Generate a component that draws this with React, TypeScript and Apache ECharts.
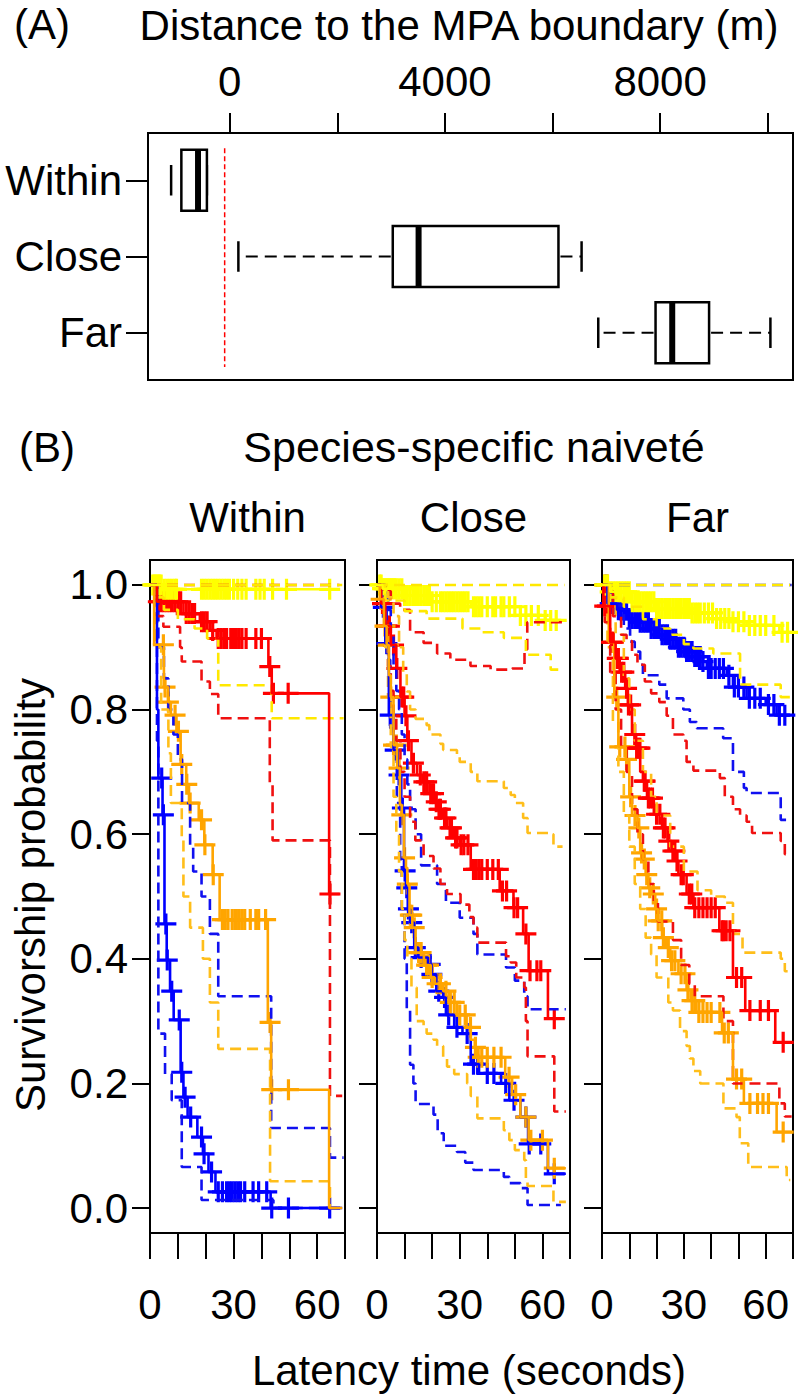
import React, { useEffect, useRef } from "react";
import * as echarts from "echarts";

const FONT = "'Liberation Sans', Arial, Helvetica, sans-serif";

// ---------- Panel A: distance to MPA boundary ----------
const BOX_CATEGORIES = ["Within", "Close", "Far"];
const BOX_POS = [1, 2, 3];
// [lower whisker, Q1, median, Q3, upper whisker]
const BOX_WITHIN = [-1090, -900, -590, -425, -425];
const BOX_CLOSE = [160, 3030, 3510, 6110, 6540];
const BOX_FAR = [6850, 7915, 8225, 8910, 10050];
const BOUNDARY = -95;
const DIST_TICKS = [0, 2000, 4000, 6000, 8000, 10000];
const DIST_LABELS = [0, 4000, 8000];

// ---------- Panel B: survivorship ----------
const PANELS = ["Within", "Close", "Far"];
const TIME_TICKS = [0, 10, 20, 30, 40, 50, 60, 70];
const TIME_LABELS = [0, 30, 60];
const PROB_TICKS = [0, 0.2, 0.4, 0.6, 0.8, 1.0];

// Within
const W_BLUE_KM = [[0,1],[2.5,0.8],[3,0.69],[4.5,0.631],[5.2,0.456],[6,0.398],[7.2,0.348],[8.5,0.302],[11,0.218],[12,0.178],[13.5,0.146],[17,0.114],[19,0.087],[21,0.058],[23.5,0.026],[43.3,0],[69,0]];
const W_BLUE_CENS = [4.2,4.8,5.7,6.2,7.8,10.5,11.4,12.6,14.6,18.5,19.4,22.1,24.5,26,27.5,28.5,29.5,30.5,31.5,32.5,34,37,39,41.9,43.7,49.7,64.5];
const W_BLUE_LO = [[0,1],[2.5,0.75],[3,0.28],[5.4,0.215],[7.8,0.173],[11.4,0.066],[18.5,0.013],[44.3,0],[69,0]];
const W_BLUE_HI = [[0,1],[2,0.97],[3,0.9],[5,0.85],[6.6,0.8],[8.4,0.76],[10,0.72],[11.5,0.65],[14.4,0.58],[15.5,0.54],[18.5,0.5],[21.5,0.44],[24.5,0.34],[43.5,0.1285],[64.6,0.081],[69.5,0.081]];

const W_ORANGE_KM = [[0,1],[1.5,0.904],[5,0.836],[6.5,0.812],[7.5,0.791],[9.5,0.765],[11,0.712],[13,0.68],[14,0.65],[17.5,0.623],[19.5,0.583],[22.5,0.535],[25,0.463],[42.3,0.298],[43.5,0.19],[64.3,0],[69,0]];
const W_ORANGE_CENS = [4.8,5.4,6.6,9,10.2,11.4,13.2,14.4,18.5,19.7,22.7,26,27,28,29.5,30.5,31,32,33,34,36,38,39,41.5,43.1,43.7,49.7];
const W_ORANGE_LO = [[0,1],[2,0.9],[4,0.8],[6.6,0.73],[7.5,0.65],[11.4,0.59],[12,0.5],[14.4,0.45],[19,0.4],[21.5,0.33],[24.5,0.2555],[43.1,0.043],[64.6,0],[69,0]];
const W_ORANGE_HI: number[][] = [];

const W_RED_KM = [[0,1],[2.5,0.973],[12,0.954],[17.9,0.941],[21.5,0.927],[23.9,0.914],[42.5,0.869],[43.7,0.826],[64.3,0.504],[68,0.504]];
const W_RED_CENS = [3,4,5,6,7,8,9,10,11,13,14,15,16,18.5,19.5,20.5,22.5,24.5,25.5,26.5,27.5,29,30,31,32,33,34.5,38,40,43,44.3,49.6,64.6];
const W_RED_LO = [[0,1],[2.5,0.95],[4.8,0.933],[10.8,0.9],[11.4,0.877],[18.5,0.845],[21.5,0.825],[24.5,0.786],[43,0.68],[44,0.59],[64.6,0.18],[69,0.18]];
const W_RED_HI = [[0,1],[68,1]];

const W_YELLOW_KM = [[0,1],[5,0.993],[68,0.993]];
const W_YELLOW_CENS = [1,1.5,2,2.5,3,3.5,4,5,6,7,8,9,9.5,18.5,19.5,20.5,21.5,22.5,23.5,24.5,25.5,26.5,27.5,28.5,30,31.5,33,34.5,38,39.5,41,44,49,64.5];
const W_YELLOW_LO = [[0,1],[2,0.98],[5,0.96],[10,0.945],[16,0.93],[20.5,0.914],[24.5,0.839],[43.7,0.786],[69.5,0.786]];
const W_YELLOW_HI = [[0,1],[69,1]];

// Close
const C_BLUE_KM = [[0,1],[1.5,0.964],[3,0.906],[4.3,0.791],[6,0.735],[7.5,0.695],[8.8,0.642],[9.8,0.541],[10.5,0.514],[11.2,0.48],[12,0.458],[13.5,0.418],[15,0.402],[18.5,0.391],[19.8,0.375],[21.5,0.348],[24,0.338],[25,0.31],[28,0.29],[31,0.28],[34,0.231],[37,0.216],[45,0.2],[48,0.173],[52,0.146],[54.8,0.103],[62,0.055],[68.5,0.055]];
const C_BLUE_CENS = [2.3,3.6,4.8,6.6,8,9.2,10.2,10.8,11.4,12.6,13.9,16,19.3,19.9,22.4,24.5,26,29,32.7,35,36.5,40,42.4,46.7,49.7,54,55.2,59.4,64.3];
const C_BLUE_LO = [[0,1],[2.3,0.96],[3.5,0.88],[4.8,0.77],[6,0.74],[7.2,0.65],[8.4,0.56],[9,0.48],[10,0.4],[10.8,0.32],[12,0.23],[13.2,0.2],[14,0.167],[20.5,0.15],[22,0.12],[24.2,0.1],[29,0.09],[32,0.073],[35,0.061],[46,0.05],[48,0.04],[52,0.032],[54.6,0.005],[66.7,0.005]];
const C_BLUE_HI = [[0,1],[3,0.99],[4,0.96],[5,0.92],[6,0.87],[7,0.83],[8,0.8],[9,0.76],[10,0.72],[11,0.68],[12,0.64],[14,0.6],[16,0.55],[21.8,0.52],[25,0.49],[30,0.466],[35,0.44],[36.4,0.407],[46.8,0.386],[50,0.365],[53.4,0.34],[54.6,0.319],[68.5,0.319]];

const C_ORANGE_KM = [[0,1],[1,0.977],[2.5,0.934],[3.5,0.9035],[4.3,0.855],[5,0.82],[6,0.743],[7.3,0.706],[8.3,0.647],[9,0.631],[9.8,0.562],[10.5,0.546],[11,0.52],[11.8,0.47],[12.8,0.45],[14,0.41],[17,0.39],[19.5,0.37],[21,0.36],[24,0.348],[26,0.33],[29,0.31],[32.5,0.29],[34,0.27],[35.5,0.258],[36,0.242],[46.5,0.21],[49,0.182],[52,0.146],[55,0.109],[62,0.064],[68.5,0.064]];
const C_ORANGE_CENS = [1.5,2.9,4.1,5,6,7,8,9,10,11,12.1,12.6,13.5,15.1,16,18,18.7,20,21.8,23,25,26.6,28,30,32,33.9,35.7,36.7,38,40,42.4,45,47.9,50.3,54,55.8,60,64.3];
const C_ORANGE_LO = [[0,1],[2,0.96],[3,0.9],[4,0.82],[5,0.74],[6,0.66],[7,0.6],[8,0.54],[9,0.48],[10,0.43],[11,0.4],[12.5,0.354],[14.4,0.3],[16.9,0.29],[18,0.28],[20.5,0.27],[21.8,0.26],[24,0.24],[25.4,0.227],[28,0.215],[32.7,0.2],[34,0.18],[36.4,0.144],[46,0.125],[48,0.109],[50,0.093],[53.4,0.077],[54,0.045],[54.6,0.0355],[61.8,0.0355],[64,0.01],[68.5,0.01]];
const C_ORANGE_HI = [[0,1],[4,0.98],[6,0.95],[8,0.9],[9.5,0.86],[10.8,0.829],[12,0.8],[14,0.785],[18,0.775],[19,0.76],[23,0.745],[24,0.735],[29,0.727],[30,0.716],[34,0.7],[36.4,0.685],[46,0.674],[48.5,0.663],[50,0.65],[53,0.626],[54.6,0.602],[63,0.6],[64,0.58],[67.3,0.58]];

const C_RED_KM = [[0,1],[1.5,0.97],[3,0.934],[5,0.9035],[7,0.866],[8.5,0.82],[10,0.79],[11,0.75],[12.5,0.714],[14.5,0.695],[16.5,0.684],[19,0.665],[21,0.652],[22,0.64],[24,0.626],[25.5,0.61],[28,0.594],[30,0.583],[34,0.5435],[44.5,0.509],[49.5,0.482],[53,0.44],[55,0.381],[62,0.304],[66.5,0.304]];
const C_RED_CENS = [2,3.5,4.5,6,7.2,9,9.7,10.5,11.4,13.2,15.7,17,18,19.5,20.5,21.5,22.5,23,24.5,25,26.5,27,28.5,29,30.5,31.5,33,35,36,37,38,40,42,44,45.5,47,49.7,51,54,55.5,58,59.4,64.3];
const C_RED_LO = [[0,1],[2,0.96],[3,0.92],[4,0.87],[5,0.83],[6,0.79],[7,0.75],[8.5,0.7],[10,0.66],[12,0.62],[13.9,0.59],[16.9,0.565],[20.5,0.545],[23,0.52],[25.4,0.504],[30.3,0.487],[33.5,0.467],[35,0.45],[36.4,0.426],[46.8,0.404],[48.5,0.394],[50.5,0.37],[53.4,0.354],[54,0.3],[54.6,0.2435],[64.3,0.155],[68.5,0.155]];
const C_RED_HI = [[0,1],[3,0.99],[5,0.97],[8.4,0.96],[12,0.924],[16.9,0.907],[21.8,0.89],[26.6,0.88],[33.9,0.87],[41.2,0.864],[49,0.866],[53.5,0.8965],[54.5,0.94],[68.5,0.94]];

const C_YELLOW_KM = [[0,1],[2,0.994],[10,0.983],[20,0.973],[34,0.965],[52,0.951],[61,0.943],[66,0.943]];
const C_YELLOW_CENS = [1,1.5,2,2.5,3,3.5,4,4.5,5,5.5,6,6.5,7,8,9,10,11,12,13,14,15,16,17,18,19,20,21.5,23,24,25,26,27,28,29,30,31,32,33,35,36,37,38,40,42,43,45,46,48,50,52,54,56,58.5,61,63,65];
const C_YELLOW_LO = [[0,1],[3,0.975],[10,0.958],[18,0.946],[31,0.93],[38,0.924],[46,0.915],[54,0.888],[63,0.864],[67.5,0.864]];
const C_YELLOW_HI = [[0,1],[68,1]];

// Far
const F_BLUE_KM = [[0,1],[2,0.97],[5.5,0.96],[10,0.946],[14,0.94],[18,0.93],[22,0.92],[25,0.913],[28,0.9],[31,0.893],[34,0.885],[37,0.877],[38.4,0.866],[45.7,0.855],[48,0.836],[53,0.818],[60,0.808],[64,0.791],[69,0.791]];
const F_BLUE_CENS = [1.5,3,4,5,6,7,8,9,10,11,12,13,14,15,16,17,18,19,20,21,22,23,24,25,26,27,28,29,30,31,32,33,34,35,36,37,39,40,41.5,43,44.5,46.5,48.5,50,52,54,56,58,61,63,65,67];
const F_BLUE_LO = [[0,1],[2,0.985],[4,0.967],[8,0.93],[10.3,0.909],[12,0.893],[14,0.872],[15,0.855],[21,0.84],[23.7,0.818],[29.8,0.8],[32.2,0.78],[34.7,0.77],[44.4,0.754],[48,0.7],[52,0.674],[53,0.666],[65.5,0.623],[69.5,0.623]];
const F_BLUE_HI = [[0,1],[69.5,1]];

const F_ORANGE_KM = [[0,1],[2.5,0.908],[4.5,0.82],[6,0.74],[8.7,0.72],[10,0.66],[11,0.63],[13,0.61],[14,0.57],[15,0.56],[16,0.535],[17,0.514],[18,0.504],[19.5,0.48],[20.5,0.461],[22,0.434],[23.5,0.418],[25,0.397],[28,0.376],[31,0.35],[32.5,0.333],[34.5,0.314],[44,0.281],[48,0.207],[52,0.168],[64,0.122],[69.5,0.122]];
const F_ORANGE_CENS = [1,2,4.1,5.4,6.5,8.4,9,10.5,12.1,13.5,14.5,15.5,16.4,17.5,18.8,20,20.6,21.9,22.5,24.3,25.5,26.7,29,30.4,31.5,33,34,35.5,37,38.5,40,43.2,44.8,46.3,49.3,51.2,54.2,57,59,61,66.4];
const F_ORANGE_LO = [[0,1],[2,0.9],[4,0.78],[6,0.7],[8,0.63],[10,0.58],[12,0.52],[14,0.48],[16,0.434],[18,0.407],[20,0.37],[24.3,0.33],[26,0.317],[28.6,0.284],[31,0.26],[32.2,0.24],[33.5,0.22],[36,0.2],[44.5,0.16],[49.3,0.146],[50.5,0.104],[53.6,0.066],[67.7,0.045],[69,0.045]];
const F_ORANGE_HI = [[0,1],[3,0.98],[5,0.92],[8,0.85],[10,0.8],[12,0.75],[15,0.7],[18,0.66],[20,0.63],[25,0.58],[30,0.54],[35,0.51],[40,0.5],[45,0.49],[48,0.44],[51.5,0.41],[65.5,0.4],[67,0.38],[69.5,0.38]];

const F_RED_KM = [[0,1],[0.5,0.966],[3,0.908],[5,0.882],[6.5,0.86],[8.5,0.834],[9.5,0.8075],[11,0.76],[12.5,0.738],[14,0.7],[15,0.685],[16.5,0.658],[19,0.632],[22,0.61],[24,0.589],[25.5,0.573],[27,0.557],[28,0.535],[31,0.504],[33.5,0.482],[43,0.445],[48,0.37],[52.5,0.317],[63.5,0.266],[69.5,0.266]];
const F_RED_CENS = [1,2,3.5,4.1,5.6,6,7.2,8,9,9.7,10.5,12,12.7,13.5,13.9,15.5,15.8,17,17.6,18.5,20,21.2,22.5,23.1,24.5,26,26.7,27.5,29,29.8,32,32.9,34,35.5,37,38.5,40,41.5,44,44.5,45.5,46.9,49.3,51.2,54.2,58,61,66.4];
const F_RED_LO = [[0,1],[1,0.94],[3,0.86],[5,0.8],[7,0.74],[9,0.7],[11,0.64],[13,0.6],[15,0.56],[17,0.52],[19,0.49],[20.5,0.46],[26,0.43],[29,0.39],[32,0.36],[34,0.34],[44.5,0.3],[48,0.2],[65,0.168],[67,0.147],[69.5,0.147]];
const F_RED_HI = [[0,1],[2,0.99],[4,0.95],[7,0.92],[9,0.91],[11,0.888],[13,0.872],[15.7,0.845],[18,0.826],[21,0.812],[23.7,0.79],[26,0.76],[29.8,0.75],[31,0.716],[33.5,0.702],[43.2,0.69],[45,0.66],[48,0.64],[50.6,0.63],[53,0.62],[55,0.602],[65.5,0.589],[67,0.568],[69.5,0.568]];

const F_YELLOW_KM = [[0,1],[3,0.989],[10.3,0.973],[20,0.962],[32.2,0.955],[42,0.946],[48,0.941],[53,0.935],[65,0.924],[69,0.924]];
const F_YELLOW_CENS = [1,2,3,4,5,6,7,8,9,10,11,12,13,14,15,16,17,18,19,20,21,22,23,24,25,26,27,28,29,30,31,32,33,34,35,36,37.5,39,40.5,42,43.5,45,46.5,48,50,52,54,56,58,60,63,66,68];
const F_YELLOW_LO = [[0,1],[3,0.98],[8,0.965],[15,0.945],[20,0.93],[25,0.92],[30,0.905],[33.5,0.898],[40.8,0.89],[50.6,0.84],[65.5,0.82],[69,0.82]];
const F_YELLOW_HI = [[0,1],[69,1]];

const COLORS = {
  blue: { solid: "#0000FF", dash: "#1010F0" },
  orange: { solid: "#FFA500", dash: "#FFBE1A" },
  red: { solid: "#FF0000", dash: "#F01010" },
  yellow: { solid: "#FFFF00", dash: "#FFE800" },
};

type Curve = { color: keyof typeof COLORS; km: number[][]; cens: number[]; lo: number[][]; hi: number[][] };

const PANEL_CURVES: Curve[][] = [
  [
    { color: "blue", km: W_BLUE_KM, cens: W_BLUE_CENS, lo: W_BLUE_LO, hi: W_BLUE_HI },
    { color: "orange", km: W_ORANGE_KM, cens: W_ORANGE_CENS, lo: W_ORANGE_LO, hi: W_ORANGE_HI },
    { color: "red", km: W_RED_KM, cens: W_RED_CENS, lo: W_RED_LO, hi: W_RED_HI },
    { color: "yellow", km: W_YELLOW_KM, cens: W_YELLOW_CENS, lo: W_YELLOW_LO, hi: W_YELLOW_HI },
  ],
  [
    { color: "blue", km: C_BLUE_KM, cens: C_BLUE_CENS, lo: C_BLUE_LO, hi: C_BLUE_HI },
    { color: "red", km: C_RED_KM, cens: C_RED_CENS, lo: C_RED_LO, hi: C_RED_HI },
    { color: "orange", km: C_ORANGE_KM, cens: C_ORANGE_CENS, lo: C_ORANGE_LO, hi: C_ORANGE_HI },
    { color: "yellow", km: C_YELLOW_KM, cens: C_YELLOW_CENS, lo: C_YELLOW_LO, hi: C_YELLOW_HI },
  ],
  [
    { color: "blue", km: F_BLUE_KM, cens: F_BLUE_CENS, lo: F_BLUE_LO, hi: F_BLUE_HI },
    { color: "orange", km: F_ORANGE_KM, cens: F_ORANGE_CENS, lo: F_ORANGE_LO, hi: F_ORANGE_HI },
    { color: "red", km: F_RED_KM, cens: F_RED_CENS, lo: F_RED_LO, hi: F_RED_HI },
    { color: "yellow", km: F_YELLOW_KM, cens: F_YELLOW_CENS, lo: F_YELLOW_LO, hi: F_YELLOW_HI },
  ],
];

const PLUS =
  "path://M-1.6,-10.5L1.6,-10.5L1.6,-1.6L10.5,-1.6L10.5,1.6L1.6,1.6L1.6,10.5L-1.6,10.5L-1.6,1.6L-10.5,1.6L-10.5,-1.6L-1.6,-1.6Z";

function stepAt(km: number[][], t: number): number {
  let v = km[0][1];
  for (const p of km) if (p[0] <= t) v = p[1];
  return v;
}

const GRID_B = [
  { left: 150, width: 195 },
  { left: 377, width: 193 },
  { left: 602, width: 191 },
];
const B_TOP = 560;
const B_HEIGHT = 673;

export default function App() {
  const ref = useRef<HTMLDivElement>(null);
  useEffect(() => {
    if (!ref.current) return;
    const chart = echarts.init(ref.current, undefined, { renderer: "svg" });
    const txt = { fontFamily: FONT, fontSize: 42, color: "#000" };

    const grids: any[] = [
      { left: 148, top: 133, width: 645, height: 247, show: true, borderColor: "#000", borderWidth: 2, backgroundColor: "transparent" },
      ...GRID_B.map((g) => ({ left: g.left, width: g.width, top: B_TOP, height: B_HEIGHT, show: true, borderColor: "#000", borderWidth: 2, backgroundColor: "transparent" })),
    ];

    const xAxes: any[] = [
      {
        gridIndex: 0, type: "value", position: "top", min: -1520, max: 10470,
        axisLine: { show: true, onZero: false, lineStyle: { color: "#000", width: 2 } },
        axisTick: { show: true, inside: false, customValues: DIST_TICKS, length: 20, lineStyle: { color: "#000", width: 2 } },
        axisLabel: { customValues: DIST_LABELS, formatter: (v: number) => String(v), margin: 31, ...txt },
        splitLine: { show: false },
      },
      ...PANELS.map((_, i) => ({
        gridIndex: i + 1, type: "value", position: "bottom", min: 0, max: 70,
        axisLine: { show: true, onZero: false, lineStyle: { color: "#000", width: 2 } },
        axisTick: { show: true, inside: false, customValues: TIME_TICKS, length: 26, lineStyle: { color: "#000", width: 2 } },
        axisLabel: { customValues: TIME_LABELS, formatter: (v: number) => String(v), margin: 50, ...txt },
        splitLine: { show: false },
      })),
    ];

    const yAxes: any[] = [
      {
        gridIndex: 0, type: "value", position: "left", inverse: true, min: 0.38, max: 3.62,
        axisLine: { show: true, onZero: false, lineStyle: { color: "#000", width: 2 } },
        axisTick: { show: true, inside: false, customValues: BOX_POS, length: 22, lineStyle: { color: "#000", width: 2 } },
        axisLabel: { customValues: BOX_POS, formatter: (v: number) => BOX_CATEGORIES[Math.round(v) - 1], margin: 26, ...txt },
        splitLine: { show: false },
      },
      ...PANELS.map((_, i) => ({
        gridIndex: i + 1, type: "value", position: "left", min: -0.04, max: 1.04,
        axisLine: { show: true, onZero: false, lineStyle: { color: "#000", width: 2 } },
        axisTick: { show: true, inside: false, customValues: PROB_TICKS, length: 18, lineStyle: { color: "#000", width: 2 } },
        axisLabel: { show: i === 0, customValues: PROB_TICKS, formatter: (v: number) => v.toFixed(1), margin: 22, ...txt },
        splitLine: { show: false },
      })),
    ];

    const boxData = [BOX_WITHIN, BOX_CLOSE, BOX_FAR].map((s, i) => [BOX_POS[i], ...s]);

    const series: any[] = [
      {
        type: "line", xAxisIndex: 0, yAxisIndex: 0, showSymbol: false, silent: true,
        data: [[BOUNDARY, 0.58], [BOUNDARY, 3.45]],
        lineStyle: { color: "#FF0000", width: 1.5, type: [5, 3] },
      },
      {
        type: "custom", xAxisIndex: 0, yAxisIndex: 0, data: boxData, silent: true,
        renderItem: (params: any, api: any) => {
          const pos = api.value(0);
          const lo = api.value(1), q1 = api.value(2), med = api.value(3), q3 = api.value(4), hi = api.value(5);
          const y = api.coord([0, pos])[1];
          const h = api.size([0, 0.8])[1];
          const xLo = api.coord([lo, pos])[0];
          const xQ1 = api.coord([q1, pos])[0];
          const xMed = api.coord([med, pos])[0];
          const xQ3 = api.coord([q3, pos])[0];
          const xHi = api.coord([hi, pos])[0];
          const dash = { stroke: "#000", lineWidth: 2, lineDash: [12, 7] };
          const solid = { stroke: "#000", lineWidth: 2.5 };
          const children: any[] = [];
          if (xQ1 - xLo > 12) children.push({ type: "line", shape: { x1: xQ1 - 2, y1: y, x2: xLo, y2: y }, style: dash });
          if (xHi - xQ3 > 12) children.push({ type: "line", shape: { x1: xQ3 + 2, y1: y, x2: xHi, y2: y }, style: dash });
          children.push({ type: "line", shape: { x1: xLo, y1: y - h / 4, x2: xLo, y2: y + h / 4 }, style: solid });
          children.push({ type: "line", shape: { x1: xHi, y1: y - h / 4, x2: xHi, y2: y + h / 4 }, style: solid });
          children.push({ type: "rect", shape: { x: xQ1, y: y - h / 2, width: xQ3 - xQ1, height: h }, style: { fill: "#fff", stroke: "#000", lineWidth: 2.5 } });
          children.push({ type: "line", shape: { x1: xMed, y1: y - h / 2, x2: xMed, y2: y + h / 2 }, style: { stroke: "#000", lineWidth: 6 } });
          return { type: "group", children };
        },
      },
    ];

    PANEL_CURVES.forEach((curves, pi) => {
      const ax = pi + 1;
      curves.forEach((c) => {
        const col = COLORS[c.color];
        [c.lo, c.hi].forEach((ci) => {
          if (!ci.length) return;
          series.push({
            type: "line", xAxisIndex: ax, yAxisIndex: ax, step: "end", showSymbol: false, silent: true,
            data: ci, lineStyle: { color: col.dash, width: 2.6, type: [11, 6] },
          });
        });
      });
      curves.forEach((c) => {
        const col = COLORS[c.color];
        series.push({
          type: "line", xAxisIndex: ax, yAxisIndex: ax, step: "end", showSymbol: false, silent: true,
          data: c.km, lineStyle: { color: col.solid, width: 2.6 },
        });
        series.push({
          type: "scatter", xAxisIndex: ax, yAxisIndex: ax, silent: true,
          symbol: PLUS, symbolSize: 21,
          data: c.cens.map((t) => [t, stepAt(c.km, t)]),
          itemStyle: { color: col.solid, opacity: 1 },
        });
      });
    });

    const graphic: any[] = [
      { type: "text", left: 14, top: 3, style: { text: "(A)", font: `42px ${FONT}`, fill: "#000" } },
      { type: "text", x: 459, y: 25, style: { text: "Distance to the MPA boundary (m)", font: `42px ${FONT}`, fill: "#000", align: "center", verticalAlign: "middle" } },
      { type: "text", x: 19, y: 447, style: { text: "(B)", font: `42px ${FONT}`, fill: "#000", align: "left", verticalAlign: "middle" } },
      { type: "text", x: 474, y: 447, style: { text: "Species-specific naiveté", font: `43px ${FONT}`, fill: "#000", align: "center", verticalAlign: "middle" } },
      ...PANELS.map((p, i) => ({
        type: "text", x: GRID_B[i].left + GRID_B[i].width / 2, y: 517,
        style: { text: p, font: `42px ${FONT}`, fill: "#000", align: "center", verticalAlign: "middle" },
      })),
      { type: "text", x: 30, y: 895, rotation: Math.PI / 2, style: { text: "Survivorship probability", font: `42px ${FONT}`, fill: "#000", align: "center", verticalAlign: "middle" } },
      { type: "text", x: 469, y: 1370, style: { text: "Latency time (seconds)", font: `42px ${FONT}`, fill: "#000", align: "center", verticalAlign: "middle" } },
    ];

    chart.setOption({
      animation: false,
      backgroundColor: "#fff",
      grid: grids,
      xAxis: xAxes,
      yAxis: yAxes,
      series,
      graphic,
    });
    return () => chart.dispose();
  }, []);
  return <div ref={ref} style={{ position: "absolute", left: 0, top: 0, width: 800, height: 1398 }} />;
}
